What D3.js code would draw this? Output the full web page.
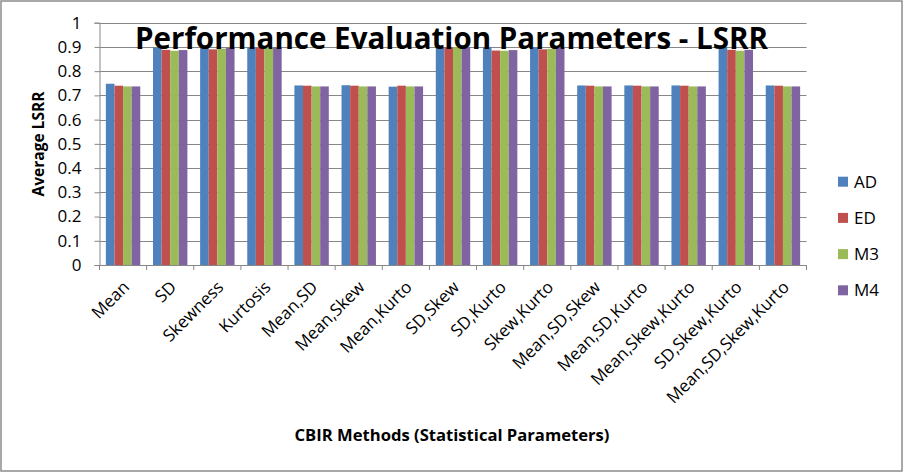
<!DOCTYPE html>
<html lang="en">
<head>
<meta charset="UTF-8">
<title>Performance Evaluation Parameters - LSRR</title>
<script src="https://cdn.jsdelivr.net/npm/d3@7/dist/d3.min.js"></script>
<style>
    body { margin: 0; background: #fff; }
    text { font-family: "Open Sans", sans-serif; fill: #000; }
</style>
</head>
<body>
<svg id="chart" width="907" height="476"></svg>
<script>
    // data
    let categories = ['Mean', 'SD', 'Skewness', 'Kurtosis', 'Mean,SD', 'Mean,Skew', 'Mean,Kurto',
        'SD,Skew', 'SD,Kurto', 'Skew,Kurto', 'Mean,SD,Skew', 'Mean,SD,Kurto', 'Mean,Skew,Kurto',
        'SD,Skew,Kurto', 'Mean,SD,Skew,Kurto'];
    let seriesNames = ['AD', 'ED', 'M3', 'M4'];
    let AD = [0.748, 0.898, 0.898, 0.899, 0.741, 0.742, 0.736, 0.899, 0.900, 0.899, 0.741, 0.741, 0.741, 0.900, 0.741];
    let ED = [0.740, 0.888, 0.890, 0.897, 0.740, 0.740, 0.740, 0.899, 0.885, 0.890, 0.740, 0.740, 0.740, 0.888, 0.740];
    let M3 = [0.737, 0.884, 0.893, 0.899, 0.737, 0.737, 0.737, 0.899, 0.884, 0.892, 0.737, 0.737, 0.737, 0.884, 0.737];
    let M4 = [0.737, 0.887, 0.897, 0.899, 0.737, 0.737, 0.737, 0.899, 0.887, 0.897, 0.737, 0.737, 0.737, 0.888, 0.737];
    let yTicks = [0, 0.1, 0.2, 0.3, 0.4, 0.5, 0.6, 0.7, 0.8, 0.9, 1];
    let colours = ['#4f81bd', '#c0504d', '#9bbb59', '#8064a2'];

    let values = [AD, ED, M3, M4];
    let rows = categories.map(function(c, i){
        return {cat: c, vals: seriesNames.map(function(s, j){ return {name: s, v: values[j][i]}; })};
    });

    let svg = d3.select('#chart');
    let plot = {left: 99.5, right: 806.5, top: 22.7, bottom: 265};

    // outer border
    svg.append('rect')
        .attr('x', 1).attr('y', 1).attr('width', 901).attr('height', 470)
        .attr('fill', '#fff').attr('stroke', '#8c8c8c').attr('stroke-width', 1.5);

    let x0 = d3.scaleBand().domain(categories).range([plot.left, plot.right]).padding(0);
    let bw = x0.bandwidth();
    let x1 = d3.scaleBand().domain(seriesNames).range([bw * 0.135, bw * 0.865]).padding(0);
    let y = d3.scaleLinear().domain([0, 1]).range([plot.bottom, plot.top]);

    // gridlines
    svg.append('g')
        .selectAll('line')
        .data(yTicks.slice(1))
        .enter()
        .append('line')
        .attr('x1', plot.left).attr('x2', plot.right)
        .attr('y1', function(d){ return Math.round(y(d)) + 0.5; })
        .attr('y2', function(d){ return Math.round(y(d)) + 0.5; })
        .attr('stroke', '#878787').attr('stroke-width', 1);

    // bars
    let groups = svg.append('g')
        .selectAll('g')
        .data(rows)
        .enter()
        .append('g')
        .attr('transform', function(d){ return 'translate(' + x0(d.cat) + ',0)'; });

    groups.selectAll('rect')
        .data(function(d){ return d.vals; })
        .enter()
        .append('rect')
        .attr('x', function(d){ return x1(d.name); })
        .attr('width', x1.bandwidth())
        .attr('y', function(d){ return y(d.v); })
        .attr('height', function(d){ return y(0) - y(d.v); })
        .attr('fill', function(d, i){ return colours[i]; });

    // y axis
    let yAxis = svg.append('g')
        .attr('transform', 'translate(' + plot.left + ',0)')
        .call(d3.axisLeft(y).tickValues(yTicks).tickSize(5).tickPadding(13)
            .tickFormat(function(d){ return d3.format('.1~f')(d); }));
    yAxis.select('.domain').attr('stroke', '#878787');
    yAxis.selectAll('.tick line').attr('stroke', '#878787');
    yAxis.selectAll('.tick text')
        .style('font-family', '"Open Sans", sans-serif')
        .style('font-size', '17px')
        .attr('fill', '#000');

    // x axis
    let xAxis = svg.append('g')
        .attr('transform', 'translate(0,' + plot.bottom + ')')
        .call(d3.axisBottom(x0).tickSize(0).tickFormat(''));
    xAxis.select('.domain').attr('stroke', '#878787');

    svg.append('g')
        .selectAll('line')
        .data(d3.range(categories.length + 1))
        .enter()
        .append('line')
        .attr('x1', function(i){ return plot.left + i * bw; })
        .attr('x2', function(i){ return plot.left + i * bw; })
        .attr('y1', plot.bottom).attr('y2', plot.bottom + 5)
        .attr('stroke', '#878787');

    svg.append('g')
        .selectAll('text')
        .data(categories)
        .enter()
        .append('text')
        .attr('transform', function(d){
            return 'translate(' + (x0(d) + bw / 2 + 3) + ',' + (plot.bottom + 19) + ') rotate(-45)';
        })
        .attr('text-anchor', 'end')
        .attr('dy', '0.35em')
        .style('font-size', '17px')
        .text(function(d){ return d; });

    // titles
    svg.append('text')
        .attr('x', 451.5).attr('y', 48.5)
        .attr('text-anchor', 'middle')
        .attr('textLength', 633).attr('lengthAdjust', 'spacingAndGlyphs')
        .style('font-size', '30px').style('font-weight', 'bold')
        .text('Performance Evaluation Parameters - LSRR');

    svg.append('text')
        .attr('transform', 'translate(44,144) rotate(-90)')
        .attr('text-anchor', 'middle')
        .style('font-size', '15.5px').style('font-weight', 'bold')
        .text('Average LSRR');

    svg.append('text')
        .attr('x', 452).attr('y', 441)
        .attr('text-anchor', 'middle')
        .attr('textLength', 315).attr('lengthAdjust', 'spacingAndGlyphs')
        .style('font-size', '16px').style('font-weight', 'bold')
        .text('CBIR Methods (Statistical Parameters)');

    // legend
    let legend = svg.append('g')
        .selectAll('g')
        .data(seriesNames)
        .enter()
        .append('g')
        .attr('transform', function(d, i){ return 'translate(838,' + (181.7 + i * 36.2) + ')'; });
    legend.append('rect')
        .attr('x', 0).attr('y', -5).attr('width', 10).attr('height', 10)
        .attr('fill', function(d, i){ return colours[i]; });
    legend.append('text')
        .attr('x', 16).attr('dy', '0.35em')
        .style('font-size', '17px')
        .text(function(d){ return d; });
</script>
</body>
</html>
